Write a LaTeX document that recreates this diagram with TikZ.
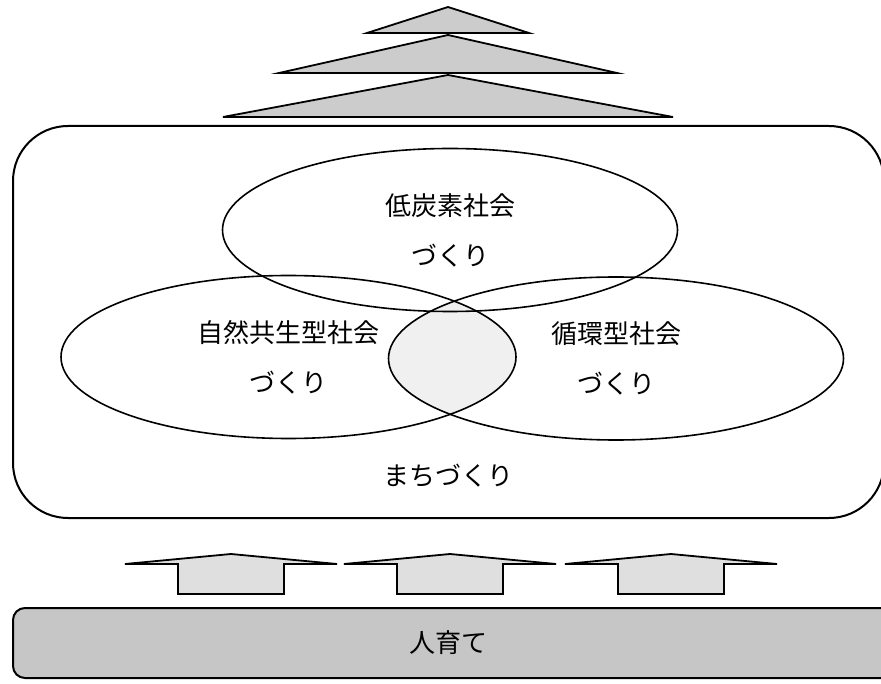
\documentclass[tikz,border=0pt]{standalone}
\usepackage{fontspec}
\newfontfamily\jpfont{Noto Sans CJK JP}
\usetikzlibrary{positioning,shapes.geometric,backgrounds}

\begin{document}
\begin{tikzpicture}[x=1pt,y=-1pt,on grid,
    zone/.style={ellipse,draw,line width=1.6pt,inner sep=0pt,minimum width=455pt,minimum height=163pt,align=center,font=\jpfont\fontsize{26pt}{50pt}\selectfont},
    town/.style={draw,line width=2pt,rounded corners=55pt,inner sep=0pt},
    caption/.style={font=\jpfont\fontsize{26pt}{30pt}\selectfont,inner sep=0pt},
    tier/.style={draw,line width=1.8pt,fill=gray!40},
    push/.style={draw,line width=1.8pt,fill=gray!25},
    groundbar/.style={draw,line width=2pt,fill=gray!45,rounded corners=12pt,inner sep=0pt}]
  \useasboundingbox (0,0) rectangle (881,684);
  % tiers on top
  \foreach \ya/\yb/\hw in {7/33/81,35/73/169,75/117/225}
    \draw[tier] (448,\ya) -- ({448+\hw},\yb) -- ({448-\hw},\yb) -- cycle;
  % frame with the three fields
  \node[town,minimum width=871pt,minimum height=392pt] (frame) at (448.5,322) {};
  \node[zone] (lowcarbon) at (450,230) {低炭素社会\\づくり};
  \node[zone] (nature) at (288.5,357) {自然共生型社会\\づくり};
  \node[zone] (recycle) at (616,358.5) {循環型社会\\づくり};
  \node[caption] (townlabel) at (448,476) {まちづくり};
  \begin{scope}[on background layer]
    \clip (nature.center) ellipse [x radius=227.5pt, y radius=81.5pt];
    \fill[gray!12] (recycle.center) ellipse [x radius=227.5pt, y radius=81.5pt];
  \end{scope}
  % pushes from below
  \foreach \cx in {231,450,671}
    \draw[push] ({\cx-106},564) -- (\cx,554) -- ({\cx+106},564) -- ({\cx+53},564) -- ({\cx+53},594) -- ({\cx-53},594) -- ({\cx-53},564) -- cycle;
  \node[groundbar,minimum width=880pt,minimum height=70pt] (base) at (453,643) {};
  \node[caption] (baselabel) at (448,643) {人育て};
\end{tikzpicture}
\end{document}
